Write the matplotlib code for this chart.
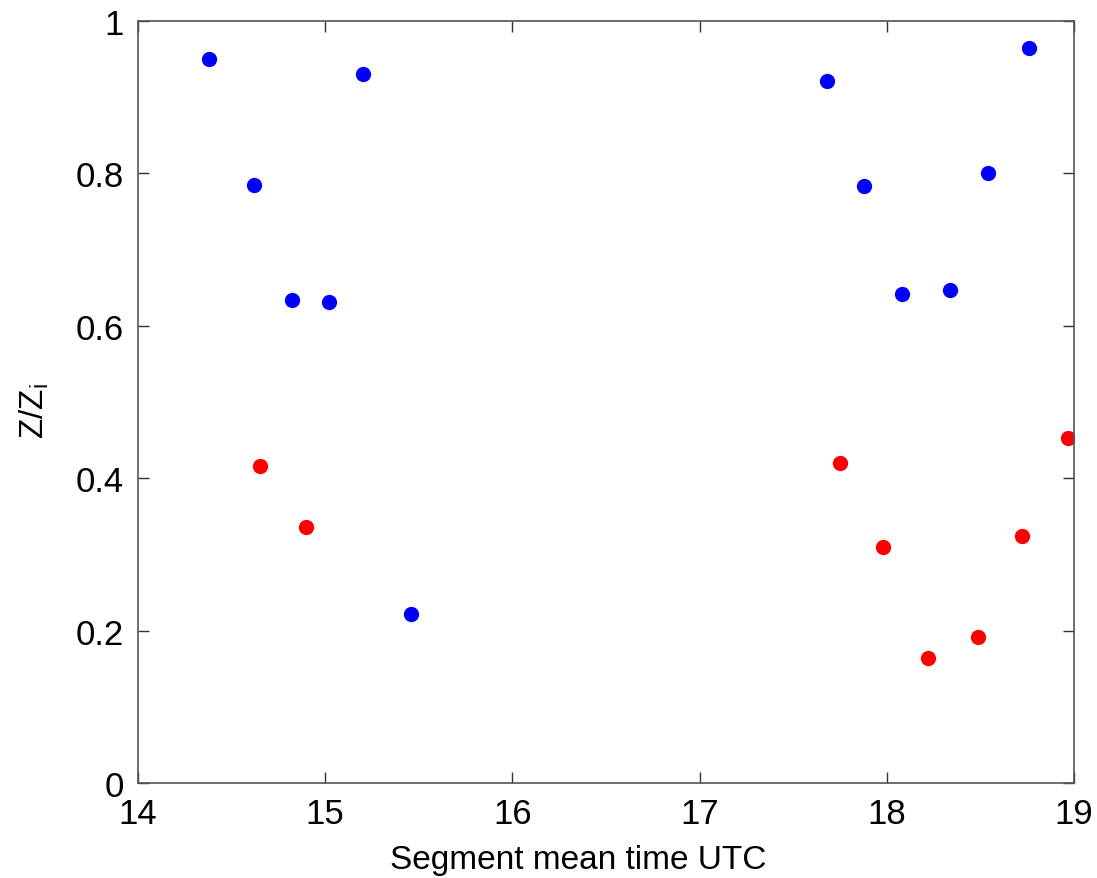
import numpy as np
import matplotlib
matplotlib.use('Agg')
import matplotlib.pyplot as plt

output_fn = 'out.png'

# Segment mean times (UTC hours) and normalised heights
blue_t = [14.38, 14.62, 14.82, 15.02, 15.20, 15.46, 17.68, 17.88, 18.08, 18.34, 18.54, 18.76]
blue_z = [0.950, 0.785, 0.634, 0.631, 0.931, 0.222, 0.921, 0.783, 0.642, 0.647, 0.801, 0.965]
red_t = [14.65, 14.90, 17.75, 17.98, 18.22, 18.49, 18.72, 18.97]
red_z = [0.416, 0.336, 0.420, 0.310, 0.164, 0.192, 0.324, 0.453]

plt.rcParams['font.family'] = ['Liberation Sans', 'DejaVu Sans']

fig = plt.figure(figsize=(10.97, 8.79), dpi=100)
ax = fig.add_axes([0.1258, 0.108, 0.8532, 0.867])

ax.plot(blue_t, blue_z, 'o', color='#0000ff', markersize=11, markeredgewidth=0)
ax.plot(red_t, red_z, 'o', color='#ff0000', markersize=11, markeredgewidth=0)

ax.set_xlim(14, 19)
ax.set_ylim(0, 1)
ax.set_xticks([14, 15, 16, 17, 18, 19])
ax.set_yticks([0, 0.2, 0.4, 0.6, 0.8, 1])
ax.set_yticklabels(['0', '0.2', '0.4', '0.6', '0.8', '1'])

ax.tick_params(direction='in', length=8, width=1, labelsize=25, pad=10,
               top=True, right=True, color='#333333')
for s in ax.spines.values():
    s.set_color('#555555')
    s.set_linewidth(1.2)

ax.set_xlabel('Segment mean time UTC', fontsize=24, labelpad=10)
ax.xaxis.label.set_x(0.47)
ax.set_ylabel('Z/Z$_\\mathregular{i}$', fontsize=24, labelpad=18)
ax.yaxis.label.set_y(0.49)

fig.savefig(output_fn, dpi=100)
plt.close(fig)
